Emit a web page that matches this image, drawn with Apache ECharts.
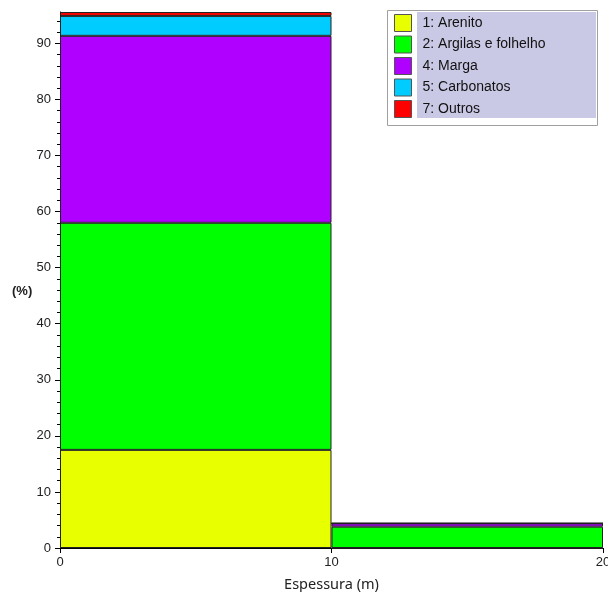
<!DOCTYPE html>
<html>
<head>
<meta charset="utf-8">
<script src="https://cdn.jsdelivr.net/npm/echarts@6/dist/echarts.min.js"></script>
<style>
html,body{margin:0;padding:0;background:#fff;}
#c{width:608px;height:592px;}
</style>
</head>
<body>
<div id="c"></div>
<script>
// Thickness intervals (m)
const categories = ['0-10', '10-20'];
// Percentages per lithology, per interval
const arenito     = [17.5, 0];
const argilas     = [40.5, 3.8];
const marga       = [33.35, 0.6];
const carbonatos  = [3.55, 0];
const outros      = [0.7, 0];
const seriesNames = ['1: Arenito', '2: Argilas e folhelho', '4: Marga', '5: Carbonatos', '7: Outros'];
const seriesColors = ['#e8ff00', '#00ff00', '#b000ff', '#00ccff', '#ff0000'];
const yMajorTicks = [0, 10, 20, 30, 40, 50, 60, 70, 80, 90];
const yMinorTicks = [2,4,6,8,12,14,16,18,22,24,26,28,32,34,36,38,42,44,46,48,52,54,56,58,62,64,66,68,72,74,76,78,82,84,86,88,92,94];
const yMax = 95.6;

const values = [arenito, argilas, marga, carbonatos, outros];
const font = 'Liberation Sans';

const chart = echarts.init(document.getElementById('c'), null, {renderer: 'canvas'});
chart.setOption({
  animation: false,
  backgroundColor: '#ffffff',
  grid: {left: 60, right: 5, top: 12, bottom: 44, outerBoundsMode: 'none', containLabel: false},
  title: {
    text: '(%)', left: 12, top: 285, padding: 0,
    textStyle: {fontFamily: font, fontSize: 13, fontWeight: 'bold', color: '#222'}
  },
  graphic: [
    {type: 'rect', shape: {x: 387.5, y: 10.5, width: 210, height: 115}, style: {fill: '#ffffff', stroke: '#a0a0a0', lineWidth: 1}, z: 0},
    {type: 'rect', shape: {x: 417, y: 12, width: 179, height: 106}, style: {fill: '#c9c9e6'}, z: 1}
  ],
  legend: {
    orient: 'vertical',
    left: 394,
    top: 14,
    padding: 0,
    itemWidth: 17,
    itemHeight: 17,
    itemGap: 3.5,
    icon: 'rect',
    selectedMode: false,
    z: 5,
    itemStyle: {borderColor: '#555555', borderWidth: 1},
    textStyle: {fontFamily: font, fontSize: 14, color: '#111', padding: [0, 0, 0, 6]},
    data: seriesNames
  },
  xAxis: [
    {type: 'category', data: categories, show: false, boundaryGap: true},
    {
      type: 'value', min: 0, max: 20, interval: 10, position: 'bottom',
      axisLine: {show: true, onZero: false, lineStyle: {color: '#000', width: 1}},
      axisTick: {show: true, length: 5, lineStyle: {color: '#000'}},
      axisLabel: {fontFamily: font, fontSize: 13, color: '#222', margin: 8},
      splitLine: {show: false},
      name: 'Espessura (m)', nameLocation: 'middle', nameGap: 29,
      nameTextStyle: {fontFamily: 'Noto Sans', fontSize: 14.5, color: '#222'}
    }
  ],
  yAxis: [
    {
      type: 'value', min: 0, max: yMax, position: 'left',
      axisLine: {show: true, lineStyle: {color: '#000', width: 1}},
      axisTick: {show: true, length: 5, customValues: yMajorTicks, lineStyle: {color: '#000'}},
      axisLabel: {fontFamily: font, fontSize: 13, color: '#222', margin: 9, customValues: yMajorTicks},
      splitLine: {show: false}
    },
    {
      type: 'value', min: 0, max: yMax, position: 'left', offset: 0,
      axisLine: {show: false},
      axisTick: {show: true, length: 3, customValues: yMinorTicks, lineStyle: {color: '#000'}},
      axisLabel: {show: false},
      splitLine: {show: false}
    }
  ],
  series: seriesNames.map((n, i) => ({
    name: n,
    type: 'bar',
    stack: 'total',
    xAxisIndex: 0,
    yAxisIndex: 0,
    barCategoryGap: '0%',
    barGap: '0%',
    itemStyle: {color: seriesColors[i], borderColor: '#222', borderWidth: 1},
    emphasis: {disabled: true},
    data: values[i]
  }))
});
</script>
</body>
</html>
